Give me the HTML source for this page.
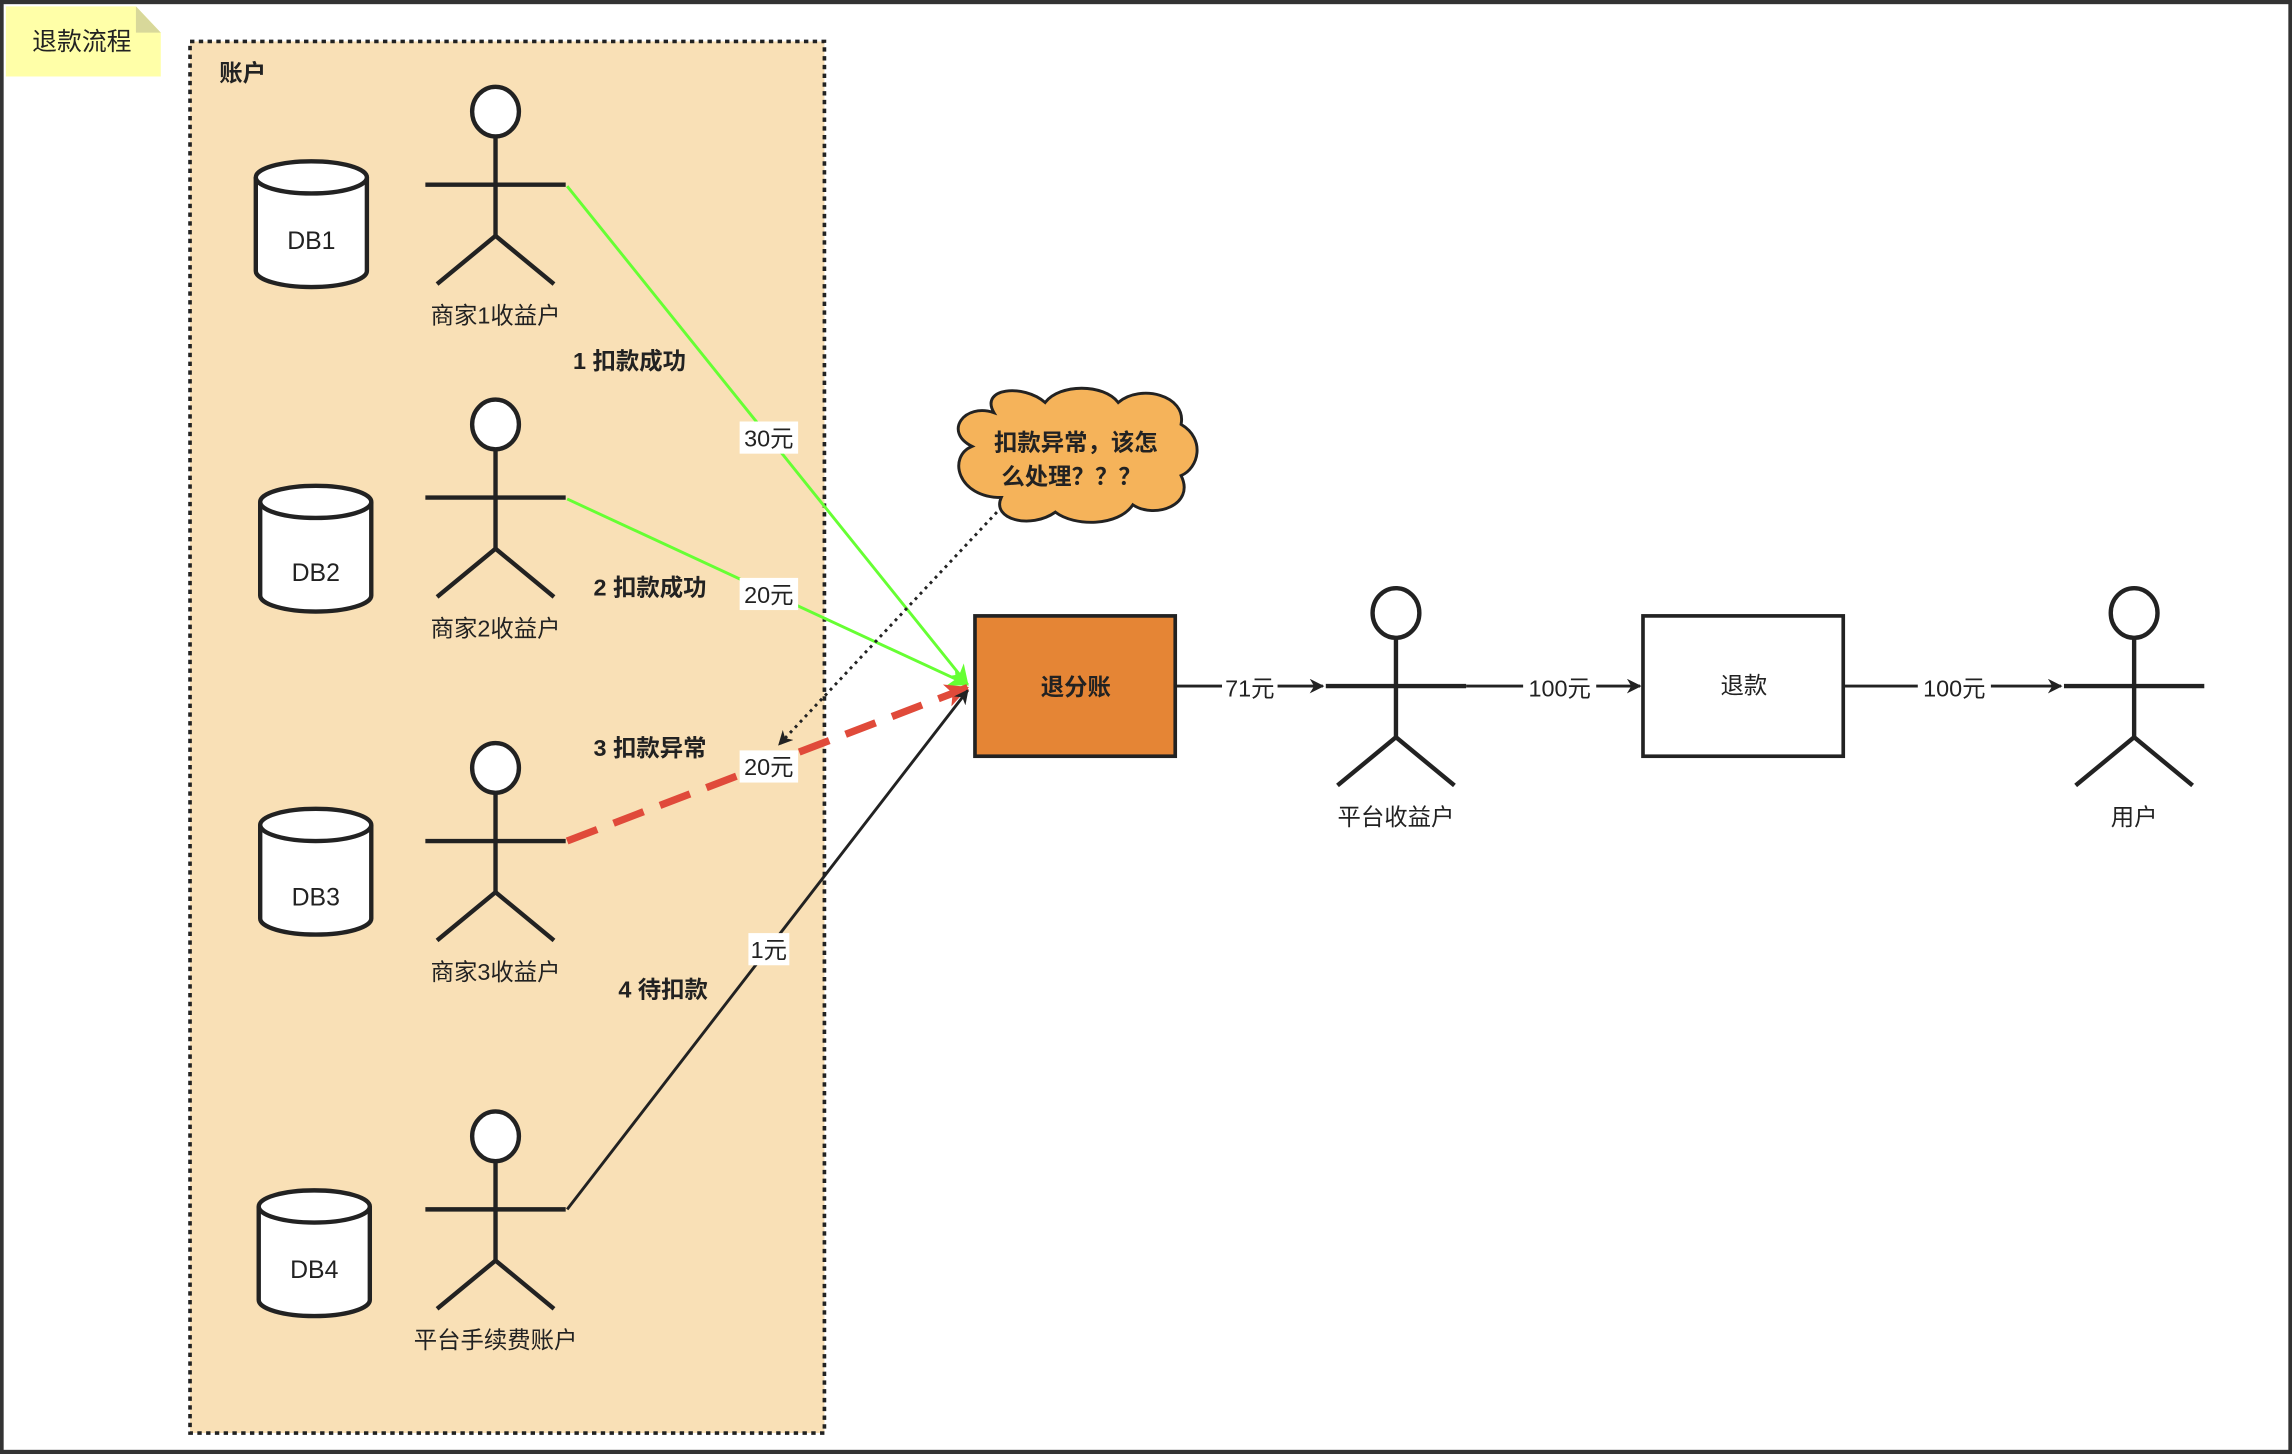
<!DOCTYPE html>
<html><head><meta charset="utf-8"><style>
html,body{margin:0;padding:0;background:#fff;}
svg{display:block;}
text{font-family:"Liberation Sans","Noto Sans CJK SC",sans-serif;fill:#222;}
</style></head><body>
<svg width="2292" height="1454" viewBox="0 0 1568 994" xmlns="http://www.w3.org/2000/svg">
<defs>
<marker id="ab" markerWidth="10" markerHeight="10" refX="9" refY="5" orient="auto" markerUnits="userSpaceOnUse"><path d="M0,0 L10,5 L0,10 L3,5 z" fill="#222"/></marker>
<marker id="ag" markerWidth="14" markerHeight="14" refX="13" refY="7" orient="auto" markerUnits="userSpaceOnUse"><path d="M0,0 L14,7 L0,14 L4,7 z" fill="#66ff33"/></marker>
<marker id="ar" markerWidth="16" markerHeight="16" refX="15" refY="8" orient="auto" markerUnits="userSpaceOnUse"><path d="M0,0 L16,8 L0,16 L4,8 z" fill="#e04a3a"/></marker>
<g id="actor" fill="none" stroke="#222" stroke-width="3">
<ellipse cx="0" cy="-50" rx="16" ry="17" fill="#fff"/>
<line x1="0" y1="-33" x2="0" y2="35"/>
<line x1="-48" y1="0" x2="48" y2="0"/>
<line x1="0" y1="35" x2="-40" y2="68"/>
<line x1="0" y1="35" x2="40" y2="68"/>
</g>
<g id="db" stroke="#222" stroke-width="3" fill="#fff">
<path d="M-38,-32 L-38,32 A38,11 0 0 0 38,32 L38,-32"/>
<ellipse cx="0" cy="-32" rx="38" ry="11"/>
</g>
</defs>
<rect x="1" y="1" width="1566" height="992" fill="#fff" stroke="#333" stroke-width="3"/>
<path d="M4,4 L93,4 L110,22 L110,52 L4,52 z" fill="#ffffa8"/>
<path d="M93,4 L110,22 L93,22 z" fill="#d8d89a"/>
<text x="22" y="34" font-size="17">退款流程</text>
<rect x="130" y="28" width="434" height="952" fill="#f9e0b6" stroke="#222" stroke-width="2.5" stroke-dasharray="3,3"/>
<text x="150" y="55" font-size="16" font-weight="bold">账户</text>
<use href="#db" x="213" y="153"/><text x="213" y="170" font-size="17" text-anchor="middle">DB1</text>
<use href="#db" x="216" y="375"/><text x="216" y="397" font-size="17" text-anchor="middle">DB2</text>
<use href="#db" x="216" y="596"/><text x="216" y="619" font-size="17" text-anchor="middle">DB3</text>
<use href="#db" x="215" y="857"/><text x="215" y="874" font-size="17" text-anchor="middle">DB4</text>
<use href="#actor" x="339" y="126"/><text x="339" y="221" font-size="16" text-anchor="middle">商家1收益户</text>
<use href="#actor" x="339" y="340"/><text x="339" y="435" font-size="16" text-anchor="middle">商家2收益户</text>
<use href="#actor" x="339" y="575"/><text x="339" y="670" font-size="16" text-anchor="middle">商家3收益户</text>
<use href="#actor" x="339" y="827"/><text x="339" y="922" font-size="16" text-anchor="middle">平台手续费账户</text>
<use href="#actor" x="955" y="469"/><text x="955" y="564" font-size="16" text-anchor="middle">平台收益户</text>
<use href="#actor" x="1460" y="469"/><text x="1460" y="564" font-size="16" text-anchor="middle">用户</text>
<line x1="388" y1="127" x2="662" y2="468" stroke="#66ff33" stroke-width="2" marker-end="url(#ag)"/>
<line x1="388" y1="341" x2="662" y2="468" stroke="#66ff33" stroke-width="2" marker-end="url(#ag)"/>
<line x1="388" y1="575" x2="662" y2="470" stroke="#e04a3a" stroke-width="5" stroke-dasharray="22,12" marker-end="url(#ar)"/>
<line x1="388" y1="827" x2="662" y2="472" stroke="#222" stroke-width="2" marker-end="url(#ab)"/>
<line x1="682" y1="350" x2="533" y2="509" stroke="#222" stroke-width="2" stroke-dasharray="2,3" marker-end="url(#ab)"/>
<rect x="506" y="288" width="40" height="22" fill="#fff"/><text x="526" y="305" font-size="16" text-anchor="middle">30元</text>
<rect x="506" y="395" width="40" height="22" fill="#fff"/><text x="526" y="412" font-size="16" text-anchor="middle">20元</text>
<rect x="506" y="513" width="40" height="22" fill="#fff"/><text x="526" y="530" font-size="16" text-anchor="middle">20元</text>
<rect x="512" y="638" width="28" height="22" fill="#fff"/><text x="526" y="655" font-size="16" text-anchor="middle">1元</text>
<text x="392" y="252" font-size="16" font-weight="bold">1 扣款成功</text>
<text x="406" y="407" font-size="16" font-weight="bold">2 扣款成功</text>
<text x="406" y="517" font-size="16" font-weight="bold">3 扣款异常</text>
<text x="423" y="682" font-size="16" font-weight="bold">4 待扣款</text>
<path d="M680,282 C670,265 700,262 715,275 C725,262 755,262 765,275 C780,262 812,270 808,290 C825,300 820,320 808,325 C818,345 790,355 775,345 C765,360 735,360 722,350 C705,362 678,355 685,340 C655,340 648,312 665,305 C645,295 660,275 680,282 z" fill="#f5b35a" stroke="#222" stroke-width="2"/>
<text x="736" y="308" font-size="16" font-weight="bold" text-anchor="middle">扣款异常，该怎</text>
<text x="733" y="331" font-size="16" font-weight="bold" text-anchor="middle">么处理？？？</text>
<rect x="667" y="421" width="137" height="96" fill="#e58535" stroke="#222" stroke-width="2.5"/>
<text x="736" y="475" font-size="16" font-weight="bold" text-anchor="middle">退分账</text>
<rect x="1124" y="421" width="137" height="96" fill="#fff" stroke="#222" stroke-width="2.5"/>
<text x="1193" y="474" font-size="16" text-anchor="middle">退款</text>
<line x1="804" y1="469" x2="905" y2="469" stroke="#222" stroke-width="2" marker-end="url(#ab)"/>
<line x1="1003" y1="469" x2="1122" y2="469" stroke="#222" stroke-width="2" marker-end="url(#ab)"/>
<line x1="1261" y1="469" x2="1410" y2="469" stroke="#222" stroke-width="2" marker-end="url(#ab)"/>
<rect x="836" y="460" width="38" height="20" fill="#fff"/><text x="855" y="476" font-size="16" text-anchor="middle">71元</text>
<rect x="1042" y="460" width="50" height="20" fill="#fff"/><text x="1067" y="476" font-size="16" text-anchor="middle">100元</text>
<rect x="1312" y="460" width="50" height="20" fill="#fff"/><text x="1337" y="476" font-size="16" text-anchor="middle">100元</text>
</svg>
</body></html>
